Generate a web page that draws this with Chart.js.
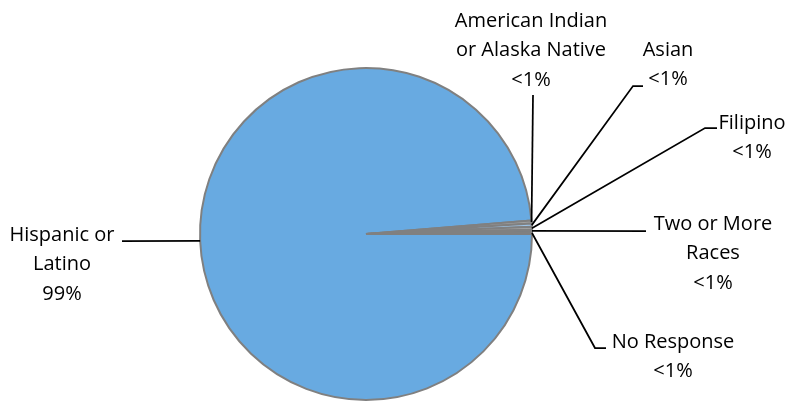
<!DOCTYPE html>
<html>
<head>
<meta charset="utf-8">
<script src="https://cdn.jsdelivr.net/npm/chart.js@4"></script>
<style>
  html, body { margin: 0; padding: 0; background: #fff; }
  #wrap { width: 791px; height: 401px; }
</style>
</head>
<body>
<div id="wrap"><canvas id="grafico-etnia" width="791" height="401"></canvas></div>
<script>
const categorias = ["Hispanic or Latino", "American Indian or Alaska Native", "Asian", "Filipino", "Two or More Races", "No Response"];
const lineasEtiqueta = [["Hispanic or", "Latino"], ["American Indian", "or Alaska Native"], ["Asian"], ["Filipino"], ["Two or More", "Races"], ["No Response"]];
const porcentajes = [98.7, 0.3, 0.3, 0.3, 0.2, 0.2];
const colores = ["#68AAE1", "#A5A5A5", "#9DC3E6", "#A5A5A5", "#255E91", "#A5A5A5"];

// where each label sits and the bends of its leader line
const posiciones = [
  { x: 62, y: 235, codo: [[122, 241]] },
  { x: 531, y: 21, codo: [[533, 95]] },
  { x: 668, y: 50, codo: [[633, 86], [643, 86]] },
  { x: 752, y: 123, codo: [[705, 128], [717, 128]] },
  { x: 713, y: 224, codo: [[646, 231]] },
  { x: 673, y: 342, codo: [[595, 348], [606, 348]] },
];

function textoPorcentaje(v) {
  return v >= 1 ? Math.round(v) + "%" : "<1%";
}

const etiquetas = {
  id: "etiquetas",
  afterDraw(chart) {
    const ctx = chart.ctx;
    const meta = chart.getDatasetMeta(0);
    ctx.save();
    meta.data.forEach((arc, i) => {
      const p = arc.getProps(["x", "y", "startAngle", "endAngle", "outerRadius"], true);
      const mid = (p.startAngle + p.endAngle) / 2;
      const ax = p.x + Math.cos(mid) * p.outerRadius;
      const ay = p.y + Math.sin(mid) * p.outerRadius;
      const pos = posiciones[i];

      ctx.strokeStyle = "#000";
      ctx.lineWidth = 1.75;
      ctx.beginPath();
      ctx.moveTo(ax, ay);
      pos.codo.forEach((c) => ctx.lineTo(c[0], c[1]));
      ctx.stroke();

      let lineas = lineasEtiqueta[i].concat([textoPorcentaje(porcentajes[i])]);
      ctx.fillStyle = "#000";
      ctx.font = "20px 'Open Sans'";
      ctx.textAlign = "center";
      ctx.textBaseline = "middle";
      lineas.forEach((t, k) => {
        ctx.fillText(t, pos.x, pos.y + k * 29.5);
      });
    });
    ctx.restore();
  },
};

new Chart(document.getElementById("grafico-etnia"), {
  type: "pie",
  data: {
    labels: categorias,
    datasets: [
      {
        data: porcentajes,
        backgroundColor: colores,
        borderColor: "#808080",
        borderWidth: 2,
      },
    ],
  },
  options: {
    responsive: false,
    animation: false,
    rotation: 90,
    layout: {
      padding: { left: 199, right: 258, top: 67, bottom: 0 },
    },
    plugins: {
      legend: { display: false },
      tooltip: { enabled: false },
    },
  },
  plugins: [etiquetas],
});
</script>
</body>
</html>
